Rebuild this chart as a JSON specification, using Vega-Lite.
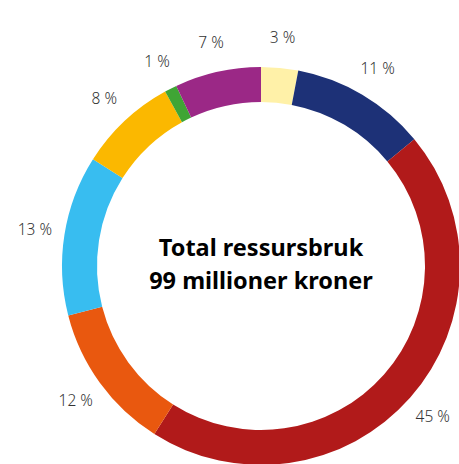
{
  "$schema": "https://vega.github.io/schema/vega-lite/v6.json",
  "width": 398,
  "height": 398,
  "autosize": {"type": "none"},
  "padding": {"left": 62, "top": 67, "right": 0, "bottom": 0},
  "background": "white",
  "view": {"stroke": null},
  "layer": [
    {
      "data": {"values": [
        {"i": 1, "cat": "A", "pct": 3, "label": "3 %"},
        {"i": 2, "cat": "B", "pct": 11, "label": "11 %"},
        {"i": 3, "cat": "C", "pct": 45, "label": "45 %"},
        {"i": 4, "cat": "D", "pct": 12, "label": "12 %"},
        {"i": 5, "cat": "E", "pct": 13, "label": "13 %"},
        {"i": 6, "cat": "F", "pct": 8, "label": "8 %"},
        {"i": 7, "cat": "G", "pct": 1, "label": "1 %"},
        {"i": 8, "cat": "H", "pct": 7, "label": "7 %"}
      ]},
      "encoding": {
        "theta": {"field": "pct", "type": "quantitative", "stack": true},
        "order": {"field": "i", "type": "quantitative"},
        "color": {
          "field": "cat", "type": "nominal", "legend": null,
          "scale": {"domain": ["A","B","C","D","E","F","G","H"],
                    "range": ["#FFF1A8","#1D3177","#B11A1A","#E9580F","#38BDF0","#FBB800","#3FA535","#9B2886"]}
        }
      },
      "layer": [
        {"mark": {"type": "arc", "outerRadius": 199, "innerRadius": 164}},
        {"mark": {"type": "text", "radius": 229, "font": "Noto Sans", "fontSize": 15.5, "fontWeight": 300},
         "encoding": {"text": {"field": "label"}, "color": {"value": "#333333"}}}
      ]
    },
    {
      "data": {"values": [{"t": "Total ressursbruk\n99 millioner kroner"}]},
      "mark": {"type": "text", "font": "Noto Sans", "fontSize": 23.5, "fontWeight": "bold", "color": "black", "lineBreak": "\n", "lineHeight": 33, "baseline": "middle", "dy": -17},
      "encoding": {"text": {"field": "t"}}
    }
  ]
}
